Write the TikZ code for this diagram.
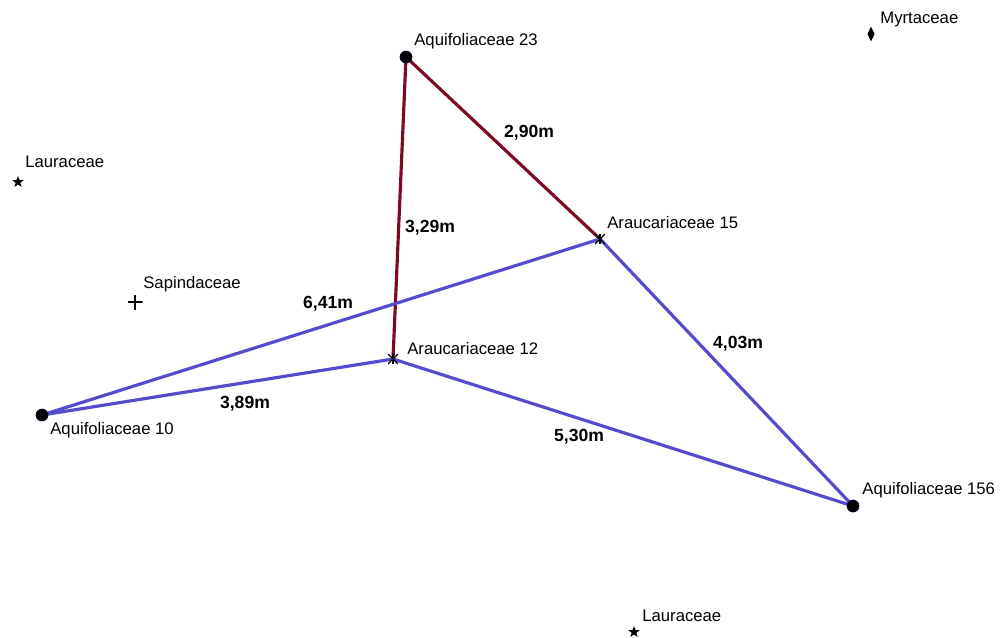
\documentclass[tikz,border=0pt]{standalone}
\usepackage{fontspec}
\setmainfont{Liberation Sans}
\usepackage{tikz}
\usepackage{xcolor}
\usetikzlibrary{shapes.geometric}
\definecolor{cMaroon}{RGB}{125,10,35}
\definecolor{cBlue}{RGB}{85,75,205}
\tikzset{
	tree/.style     ={circle, fill=black, draw=black!80!blue, minimum size=0.24cm, inner sep=0pt},
	asterisk/.style ={minimum size=0.2cm, inner sep=0pt, path picture={
			\draw[line width=0.7pt] (path picture bounding box.north) -- (path picture bounding box.south);
			\draw[line width=0.7pt] (path picture bounding box.north west) -- (path picture bounding box.south east);
			\draw[line width=0.7pt] (path picture bounding box.north east) -- (path picture bounding box.south west);}},
	starmark/.style ={star, star points=5, star point ratio=2.4, fill=black, minimum size=0.24cm, inner sep=0pt},
	plusmark/.style ={minimum size=0.3cm, inner sep=0pt, path picture={
			\draw[line width=1pt] (path picture bounding box.north) -- (path picture bounding box.south);
			\draw[line width=1pt] (path picture bounding box.west) -- (path picture bounding box.east);}},
	diamark/.style  ={diamond, fill=black, minimum width=0.15cm, minimum height=0.3cm, inner sep=0pt},
	famname/.style  ={anchor=base west, inner sep=0pt, font=\fontsize{9.5}{11}\selectfont},
	dist/.style     ={inner sep=0pt, font=\fontsize{10}{12}\selectfont\bfseries},
	redline/.style  ={cMaroon, line width=1.8pt},
	blueline/.style ={cBlue, line width=1.8pt},
}
\begin{document}
\begin{tikzpicture}[x=0.02cm, y=-0.02cm]
	\useasboundingbox (0,0) rectangle (1006,637);
	% tree positions
	\coordinate (a23) at (406,57);
	\coordinate (a15) at (600,239);
	\coordinate (a12) at (393,359);
	\coordinate (a10) at (42,415);
	\coordinate (a156) at (853,506);
	% distances
	\draw[redline] (a23) -- (a15);
	\draw[redline] (a23) -- (a12);
	\draw[blueline] (a10) -- (a15);
	\draw[blueline] (a10) -- (a12);
	\draw[blueline] (a12) -- (a156);
	\draw[blueline] (a15) -- (a156);
	\node[dist] (d1) at (529,133) {2,90m};
	\node[dist] (d2) at (430,228) {3,29m};
	\node[dist] (d3) at (328,304) {6,41m};
	\node[dist] (d4) at (738,344) {4,03m};
	\node[dist] (d5) at (245,404) {3,89m};
	\node[dist] (d6) at (579,437) {5,30m};
	% markers
	\node[tree] (m23) at (a23) {};
	\node[tree] (m10) at (a10) {};
	\node[tree] (m156) at (a156) {};
	\node[asterisk] (m15) at (a15) {};
	\node[asterisk] (m12) at (a12) {};
	\node[starmark] (lau1) at (18,182) {};
	\node[starmark] (lau2) at (634,632) {};
	\node[plusmark] (sap) at (135,302) {};
	\node[diamark] (myr) at (871,34) {};
	% names
	\node[famname] (t23) at (414,45) {Aquifoliaceae 23};
	\node[famname] (t15) at (607,228) {Araucariaceae 15};
	\node[famname] (t12) at (407,354) {Araucariaceae 12};
	\node[famname] (t10) at (50,434) {Aquifoliaceae 10};
	\node[famname] (t156) at (862,494) {Aquifoliaceae 156};
	\node[famname] (tlau1) at (25,167) {Lauraceae};
	\node[famname] (tsap) at (143,288) {Sapindaceae};
	\node[famname] (tmyr) at (880,23) {Myrtaceae};
	\node[famname] (tlau2) at (642,621) {Lauraceae};
\end{tikzpicture}
\end{document}
